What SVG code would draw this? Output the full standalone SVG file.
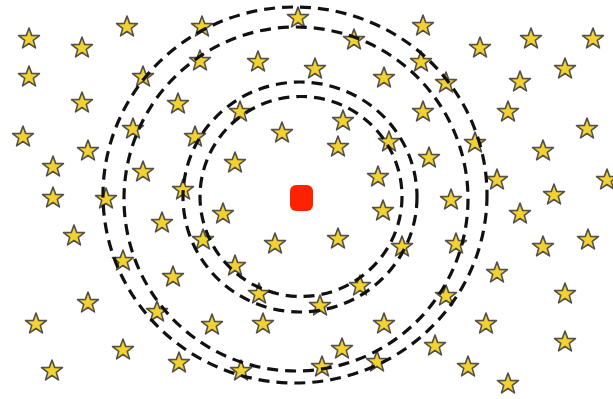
<svg xmlns="http://www.w3.org/2000/svg" xmlns:xlink="http://www.w3.org/1999/xlink" width="613" height="399" viewBox="0 0 613 399">
<style>
.star{fill:#F2D22E;stroke:#555048;stroke-width:1.6;stroke-linejoin:round}
.ring{fill:none;stroke:#111;stroke-width:3.2;stroke-dasharray:11 7}
</style>
<defs>
<path id="s" class="star" d="M0,-11 L2.65,-3.64 L10.46,-3.4 L4.28,1.39 L6.47,8.9 L0,4.5 L-6.47,8.9 L-4.28,1.39 L-10.46,-3.4 L-2.65,-3.64 Z"/>
</defs>
<rect width="613" height="399" fill="#fff"/>
<g id="stars">
<use href="#s" x="29" y="39"/><use href="#s" x="82" y="48"/><use href="#s" x="127" y="27"/><use href="#s" x="202" y="27"/><use href="#s" x="200" y="61"/><use href="#s" x="29" y="77"/><use href="#s" x="143" y="77"/><use href="#s" x="82" y="103"/><use href="#s" x="178" y="104"/><use href="#s" x="23" y="137"/><use href="#s" x="133" y="129"/><use href="#s" x="195" y="137"/><use href="#s" x="88" y="151"/><use href="#s" x="53" y="167"/><use href="#s" x="143" y="172"/><use href="#s" x="183" y="190"/><use href="#s" x="53" y="198"/><use href="#s" x="106" y="199"/>
<use href="#s" x="298" y="18"/><use href="#s" x="354" y="40"/><use href="#s" x="258" y="62"/><use href="#s" x="315" y="69"/><use href="#s" x="384" y="78"/><use href="#s" x="240" y="112"/><use href="#s" x="343" y="121"/><use href="#s" x="282" y="133"/><use href="#s" x="338" y="147"/><use href="#s" x="389" y="142"/><use href="#s" x="235" y="163"/><use href="#s" x="378" y="177"/>
<use href="#s" x="423" y="26"/><use href="#s" x="480" y="48"/><use href="#s" x="531" y="39"/><use href="#s" x="593" y="39"/><use href="#s" x="421" y="62"/><use href="#s" x="565" y="69"/><use href="#s" x="446" y="83"/><use href="#s" x="520" y="82"/><use href="#s" x="423" y="112"/><use href="#s" x="508" y="112"/><use href="#s" x="587" y="129"/><use href="#s" x="475" y="143"/><use href="#s" x="543" y="151"/><use href="#s" x="429" y="158"/><use href="#s" x="497" y="180"/><use href="#s" x="607" y="180"/><use href="#s" x="451" y="200"/><use href="#s" x="554" y="195"/>
<use href="#s" x="74" y="236"/><use href="#s" x="162" y="223"/><use href="#s" x="203" y="240"/><use href="#s" x="123" y="261"/><use href="#s" x="173" y="277"/><use href="#s" x="88" y="303"/><use href="#s" x="157" y="312"/><use href="#s" x="36" y="324"/><use href="#s" x="123" y="350"/><use href="#s" x="179" y="363"/><use href="#s" x="52" y="371"/>
<use href="#s" x="223" y="214"/><use href="#s" x="383" y="211"/><use href="#s" x="275" y="244"/><use href="#s" x="338" y="239"/><use href="#s" x="402" y="247"/><use href="#s" x="235" y="266"/><use href="#s" x="360" y="286"/><use href="#s" x="259" y="294"/><use href="#s" x="320" y="306"/><use href="#s" x="212" y="325"/><use href="#s" x="263" y="324"/><use href="#s" x="384" y="324"/><use href="#s" x="342" y="349"/><use href="#s" x="241" y="371"/><use href="#s" x="322" y="367"/><use href="#s" x="377" y="362"/>
<use href="#s" x="520" y="214"/><use href="#s" x="588" y="240"/><use href="#s" x="456" y="244"/><use href="#s" x="543" y="247"/><use href="#s" x="497" y="273"/><use href="#s" x="565" y="294"/><use href="#s" x="446" y="296"/><use href="#s" x="486" y="324"/><use href="#s" x="565" y="342"/><use href="#s" x="435" y="346"/><use href="#s" x="468" y="367"/><use href="#s" x="508" y="384"/>
</g>
<g id="rings">
<ellipse class="ring" cx="295" cy="195" rx="192" ry="188"/>
<ellipse class="ring" cx="296" cy="199" rx="172" ry="172"/>
<ellipse class="ring" cx="300" cy="197" rx="117" ry="115"/>
<ellipse class="ring" cx="301" cy="196.5" rx="101" ry="100"/>
</g>
<rect id="center" x="290" y="185" width="23" height="26" rx="6" fill="#FF2200"/>
</svg>
